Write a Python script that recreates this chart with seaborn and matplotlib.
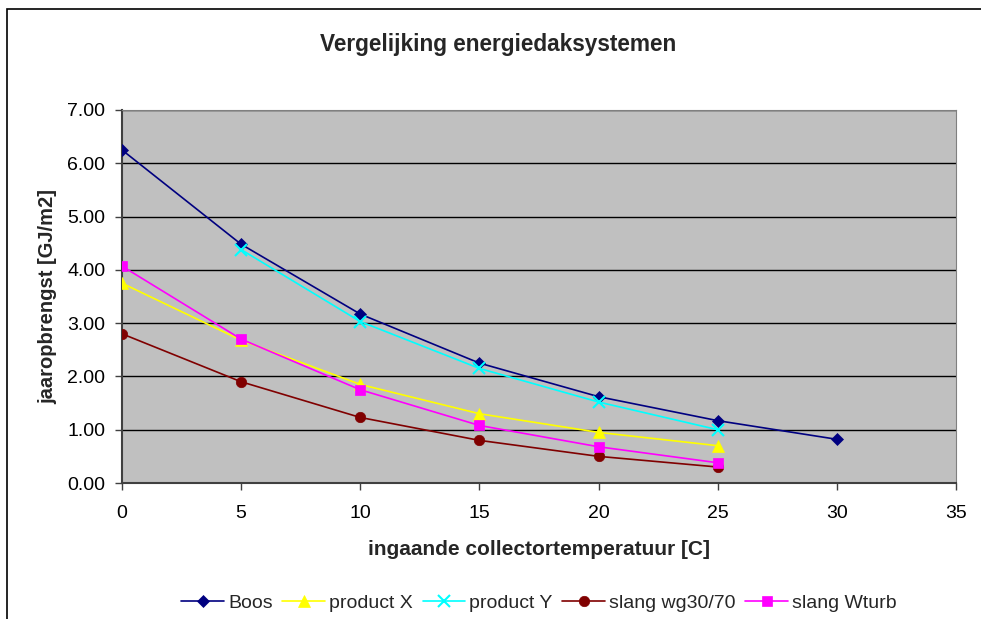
import matplotlib
matplotlib.use("Agg")
import matplotlib.pyplot as plt
import seaborn as sns
import pandas as pd
from matplotlib.patches import Rectangle

x_all = [0, 5, 10, 15, 20, 25, 30]
boos = [6.25, 4.48, 3.17, 2.25, 1.62, 1.17, 0.82]
x_prod_x = [0, 5, 10, 15, 20, 25]
product_x = [3.75, 2.68, 1.85, 1.30, 0.95, 0.70]
x_prod_y = [5, 10, 15, 20, 25]
product_y = [4.38, 3.03, 2.15, 1.52, 1.00]
x_slang = [0, 5, 10, 15, 20, 25]
slang_wg = [2.80, 1.90, 1.23, 0.80, 0.50, 0.30]
slang_wturb = [4.07, 2.70, 1.75, 1.08, 0.68, 0.38]

series = [
    ("Boos", x_all, boos, "#000080", "D", 6.5),
    ("product X", x_prod_x, product_x, "#FFFF00", "^", 8.5),
    ("product Y", x_prod_y, product_y, "#00FFFF", "x", 8),
    ("slang wg30/70", x_slang, slang_wg, "#800000", "o", 7.5),
    ("slang Wturb", x_slang, slang_wturb, "#FF00FF", "s", 7),
]

sns.set_theme(style="white")
plt.rcParams["font.family"] = ["Liberation Sans", "DejaVu Sans"]

fig = plt.figure(figsize=(9.81, 6.19), dpi=100)
ax = fig.add_axes([122/981, 1-483/619, (956-122)/981, (483-110)/619])
ax.set_facecolor("#C0C0C0")

for name, xs, ys, col, mk, ms in series:
    df = pd.DataFrame({"x": xs, "y": ys})
    sns.lineplot(data=df, x="x", y="y", ax=ax, color=col, marker=mk,
                 markersize=ms, markeredgecolor=col, markeredgewidth=1.5 if mk == "x" else 0.5,
                 linewidth=1.2, label=name, zorder=3)

ax.set_xlim(0, 35)
ax.set_ylim(0, 7)
ax.set_xticks(range(0, 36, 5))
ax.set_yticks([i for i in range(0, 8)])
ax.set_yticklabels([f"{i:.2f}" for i in range(0, 8)], fontsize=14)
ax.set_xticklabels([str(v) for v in range(0, 36, 5)], fontsize=14)
ax.yaxis.grid(True, color="black", linewidth=1)
ax.xaxis.grid(False)
ax.set_axisbelow(True)
ax.tick_params(axis="y", direction="out", length=5, width=1, color="#404040",
               left=True, pad=7, labelcolor="black")
ax.tick_params(axis="x", direction="out", length=5, width=1, color="#404040",
               bottom=True, pad=11, labelcolor="black")
for side in ["top", "right"]:
    ax.spines[side].set_color("#808080")
    ax.spines[side].set_linewidth(0.8)
for side in ["left", "bottom"]:
    ax.spines[side].set_color("#404040")
    ax.spines[side].set_linewidth(1.5)

ax.set_xlabel("ingaande collectortemperatuur [C]", fontsize=15, fontweight="bold", labelpad=13)
ax.set_ylabel("jaaropbrengst [GJ/m2]", fontsize=14.5, fontweight="bold", labelpad=7)
fig.text(498/981, 1-45/619, "Vergelijking energiedaksystemen", fontsize=16.3, fontweight="bold",
         ha="center", va="center")

leg = ax.legend(loc="center", bbox_to_anchor=(539/981, 1-603/619), bbox_transform=fig.transFigure,
                ncol=5, frameon=False, fontsize=14, handlelength=2.2, columnspacing=0.5,
                handletextpad=0.2, borderaxespad=0, borderpad=0)

fig.patches.append(Rectangle((7/981, -0.1), 1.2, 1 - 9/619 + 0.1, transform=fig.transFigure,
                             fill=False, edgecolor="black", linewidth=1.2))

fig.savefig("out.png", dpi=100)
